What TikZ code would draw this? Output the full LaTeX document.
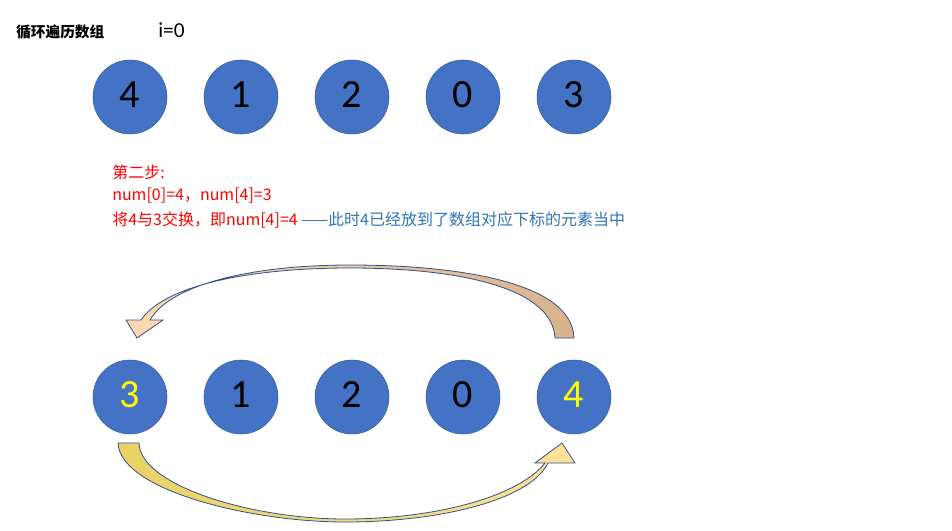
\documentclass[tikz,border=0pt]{standalone}
\usepackage{fontspec}
\setmainfont{Carlito}
\newfontfamily\cjk{Noto Sans CJK SC}
\begin{document}
\begin{tikzpicture}[x=0.75pt,y=-0.75pt,
  ball/.style={circle,fill=myblue,draw=myblue!80!black,minimum size=55.5pt,inner sep=0pt,font=\fontsize{30}{30}\selectfont},
  red/.style={text=myred,anchor=west,font=\cjk\fontsize{12}{14}\selectfont,inner sep=0pt}]
\definecolor{myblue}{HTML}{4472C4}
\definecolor{myred}{HTML}{FF0000}
\definecolor{mytxt}{HTML}{2E75B6}
\definecolor{myyel}{HTML}{FFFF00}
\useasboundingbox (0,0) rectangle (952,531);
\node[anchor=west,inner sep=0pt,font=\cjk\bfseries\fontsize{11}{12}\selectfont] (title) at (16,32) {循环遍历数组};
\node[anchor=west,inner sep=0pt,font=\fontsize{16}{16}\selectfont] (i) at (158,30) {i=0};
\foreach \v/\x [count=\k] in {4/130,1/241,2/352,0/463,3/574}{
  \node[ball] (t\k) at (\x,97) {\raisebox{3pt}{\v}};
}
\node[ball] (b1) at (130,397) {\raisebox{3pt}{\textcolor{myyel}{3}}};
\node[ball] (b2) at (241,397) {\raisebox{3pt}{1}};
\node[ball] (b3) at (352,397) {\raisebox{3pt}{2}};
\node[ball] (b4) at (463,397) {\raisebox{3pt}{0}};
\node[ball] (b5) at (574,397) {\raisebox{3pt}{\textcolor{myyel}{4}}};
\node[red] (s1) at (112,172) {第二步:};
\node[red] (s2) at (112,196) {num[0]=4，num[4]=3};
\node[red] (s3) at (112,220) {将4与3交换，即num[4]=4 \textcolor{mytxt}{——此时4已经放到了数组对应下标的元素当中}};
% top arrow
\draw[draw=myblue!70!black,line width=0.6pt,left color=orange!30!white,right color=brown!60!white]
 (574,338) .. controls (572,280) and (450,265) .. (350,265)
 .. controls (250,265) and (170,285) .. (150,320)
 -- (163,320) -- (137,338) -- (126,320) -- (141,320)
 .. controls (165,285) and (250,268) .. (350,268)
 .. controls (450,268) and (552,285) .. (555,338) -- cycle;
% bottom arrow
\draw[draw=myblue!70!black,line width=0.6pt,left color=brown!50!yellow!70!white,right color=yellow!40!orange!40!white]
 (118,443) .. controls (120,490) and (250,522) .. (345,522)
 .. controls (440,522) and (530,500) .. (548,463)
 -- (575,463) -- (562,443) -- (535,463) -- (545,463)
 .. controls (520,495) and (440,519) .. (345,519)
 .. controls (250,519) and (140,485) .. (139,443) -- cycle;
\end{tikzpicture}
\end{document}
